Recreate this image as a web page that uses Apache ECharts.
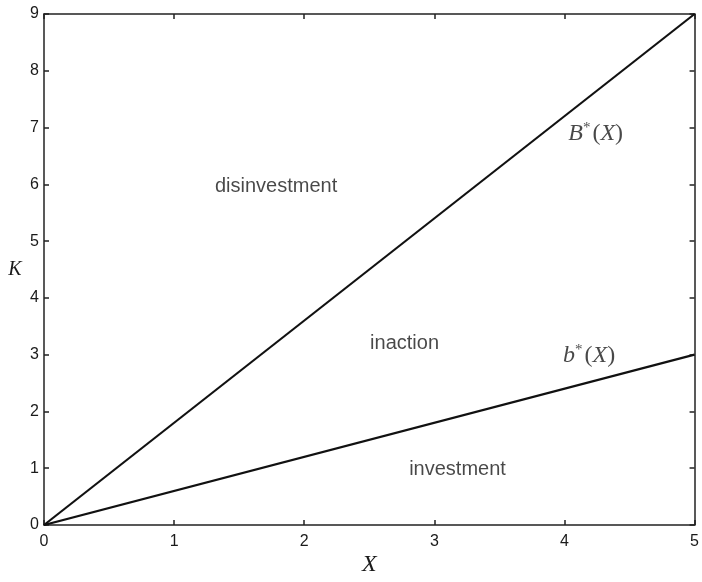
<!DOCTYPE html>
<html>
<head>
<meta charset="utf-8">
<script src="https://cdn.jsdelivr.net/npm/echarts@6/dist/echarts.min.js"></script>
<style>
  html, body { margin: 0; padding: 0; background: #fff; }
  #chart { width: 702px; height: 582px; }
</style>
</head>
<body>
<div id="chart"></div>
<script>
// Boundary lines of the investment regions: K = slope * X
const xEnds = [0, 5];
const upperBoundary = [0, 9];   // B*(X)
const lowerBoundary = [0, 3];   // b*(X)

// Axis ranges and ticks
const xTicks = [0, 1, 2, 3, 4, 5];
const yTicks = [0, 1, 2, 3, 4, 5, 6, 7, 8, 9];

// Region names and curve names, anchored in data coordinates
const regionNames = ['disinvestment', 'inaction', 'investment'];
const regionAt = [[1.784, 5.97], [2.771, 3.19], [3.178, 0.975]];
const curveNames = ['{it|B}{sup|*}{n|(}{it|X}{n|)}', '{it|b}{sup|*}{n|(}{it|X}{n|)}'];
const curveAt = [[4.24, 6.9], [4.19, 2.99]];

const sans = 'Liberation Sans, Arial, sans-serif';
const serif = 'Liberation Serif, Times New Roman, serif';
const ink = '#1a1a1a';

const chart = echarts.init(document.getElementById('chart'), null, { renderer: 'canvas' });

const axisLine = { show: true, onZero: false, lineStyle: { color: '#222', width: 1.5 } };
const tick = { show: true, inside: true, length: 5, lineStyle: { color: '#222', width: 1.5 } };

const mathRich = {
  it: { fontFamily: serif, fontStyle: 'italic', fontSize: 24, color: ink },
  n: { fontFamily: serif, fontSize: 24, color: ink },
  sup: { fontFamily: serif, fontSize: 15, color: ink, verticalAlign: 'top', padding: [0, 2, 11, 0] }
};

chart.setOption({
  animation: false,
  backgroundColor: '#fff',
  grid: { left: 44, top: 14, right: 3, bottom: 51, containLabel: false },
  xAxis: [
    {
      type: 'value', min: 0, max: 5, interval: 1, position: 'bottom',
      name: 'X', nameLocation: 'middle', nameGap: 40, nameMoveOverlap: false,
      nameTextStyle: { fontFamily: serif, fontStyle: 'italic', fontSize: 24, color: ink,
        align: 'center', verticalAlign: 'middle' },
      axisLine, axisTick: tick, splitLine: { show: false },
      axisLabel: { fontFamily: sans, fontSize: 16, color: ink, margin: 9,
        formatter: v => xTicks.includes(v) ? String(v) : '' }
    },
    {
      type: 'value', min: 0, max: 5, interval: 1, position: 'top',
      axisLine, axisTick: tick, axisLabel: { show: false }, splitLine: { show: false }
    }
  ],
  yAxis: [
    {
      type: 'value', min: 0, max: 9, interval: 1, position: 'left',
      name: 'K', nameLocation: 'middle', nameGap: 29, nameRotate: 0, nameMoveOverlap: false,
      nameTextStyle: { fontFamily: serif, fontStyle: 'italic', fontSize: 20, color: ink,
        align: 'center', verticalAlign: 'middle', padding: [17, 0, 0, 0] },
      axisLine, axisTick: tick, splitLine: { show: false },
      axisLabel: { fontFamily: sans, fontSize: 16, color: ink, margin: 5,
        formatter: v => yTicks.includes(v) ? String(v) : '' }
    },
    {
      type: 'value', min: 0, max: 9, interval: 1, position: 'right',
      axisLine, axisTick: tick, axisLabel: { show: false }, splitLine: { show: false }
    }
  ],
  series: [
    {
      type: 'line', symbol: 'none', silent: true,
      lineStyle: { color: '#111', width: 2.2 },
      data: xEnds.map((x, i) => [x, upperBoundary[i]])
    },
    {
      type: 'line', symbol: 'none', silent: true,
      lineStyle: { color: '#111', width: 2.2 },
      data: xEnds.map((x, i) => [x, lowerBoundary[i]])
    },
    {
      type: 'scatter', symbolSize: 0, silent: true,
      label: { show: true, position: 'inside', fontFamily: sans, fontSize: 20, color: ink,
        formatter: p => p.name },
      data: regionNames.map((n, i) => ({ name: n, value: regionAt[i] }))
    },
    {
      type: 'scatter', symbolSize: 0, silent: true,
      label: { show: true, position: 'inside', rich: mathRich, formatter: p => p.name },
      data: curveNames.map((n, i) => ({ name: n, value: curveAt[i] }))
    }
  ]
});
</script>
</body>
</html>
